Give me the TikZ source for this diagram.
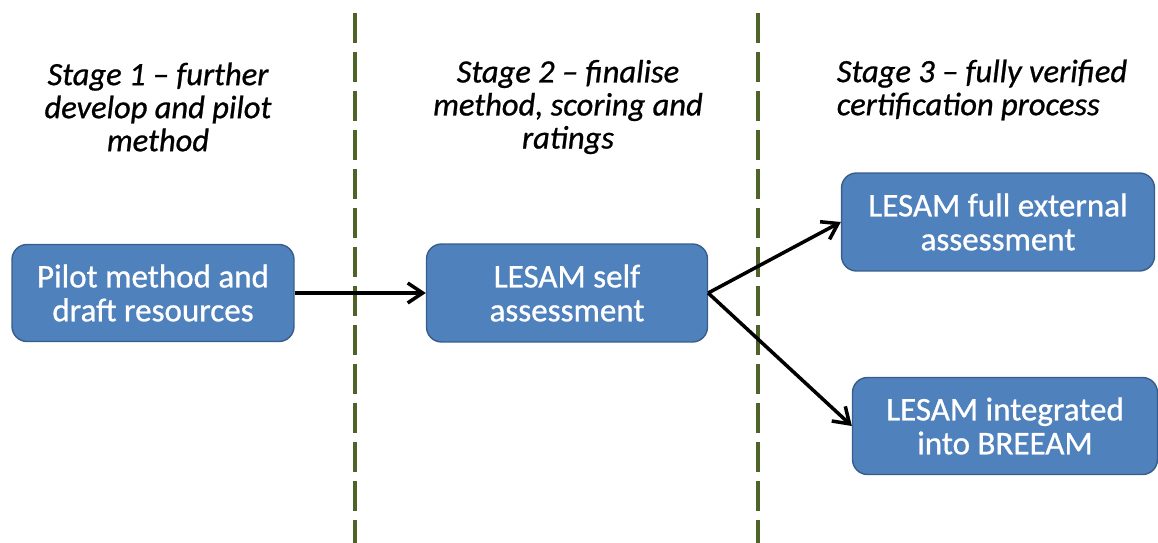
\documentclass[tikz,border=0pt]{standalone}
\usepackage{fontspec}
\setmainfont{Carlito}
\newfontfamily\boxfont[FakeBold=0.8, Ligatures=TeX]{Carlito}
\usepackage{tikz}
\usetikzlibrary{arrows.meta}
\definecolor{boxblue}{HTML}{4F81BD}
\definecolor{boxedge}{HTML}{385D8A}
\definecolor{stageline}{HTML}{4F6228}

\begin{document}
\begin{tikzpicture}[x=0.02cm, y=-0.02cm,
	stagebox/.style={rectangle, rounded corners=0.3cm, fill=boxblue, draw=boxedge, line width=0.8pt,
		text=white, align=center, font=\boxfont\fontsize{18.8}{19.3}\selectfont, inner sep=0pt},
	stagetitle/.style={font=\boxfont\fontsize{18.5}{18.8}\selectfont\itshape, align=center},
	divider/.style={stageline, line width=2pt, dash pattern=on 0.6cm off 0.18cm},
	flow/.style={-{Straight Barb[length=3mm, width=4mm]}, line width=2pt}]
	\useasboundingbox (0, 0) rectangle (1158, 543);
		% stage dividers
		\draw[divider] (355, 13) -- (355, 543);
		\draw[divider] (758, 13) -- (758, 543);
		% stage titles
		\node[stagetitle] (title1) at (158, 107) {Stage 1 -- further\\develop and pilot\\method};
		\node[stagetitle] (title2) at (568, 107) {Stage 2 -- finalise\\method, scoring and\\ratings};
		\node[stagetitle, align=left] (title3) at (982, 90) {Stage 3 -- fully verified\\certification process};
		% boxes
		\node[stagebox, minimum width=5.64cm, minimum height=1.94cm] (pilot) at (153, 293) {Pilot method and\\draft resources};
		\node[stagebox, minimum width=5.62cm, minimum height=1.96cm] (self) at (567, 293) {LESAM self\\assessment};
		\node[stagebox, minimum width=6.26cm, minimum height=1.96cm] (full) at (998, 222) {LESAM full external\\assessment};
		\node[stagebox, minimum width=6.1cm, minimum height=1.94cm] (breeam) at (1005, 426) {LESAM integrated\\into BREEAM};
		% arrows
		\draw[flow] (pilot) -- (self);
		\draw[flow] (self.east) -- (full.west);
		\draw[flow] (self.east) -- (breeam.west);
	\end{tikzpicture}
\end{document}
